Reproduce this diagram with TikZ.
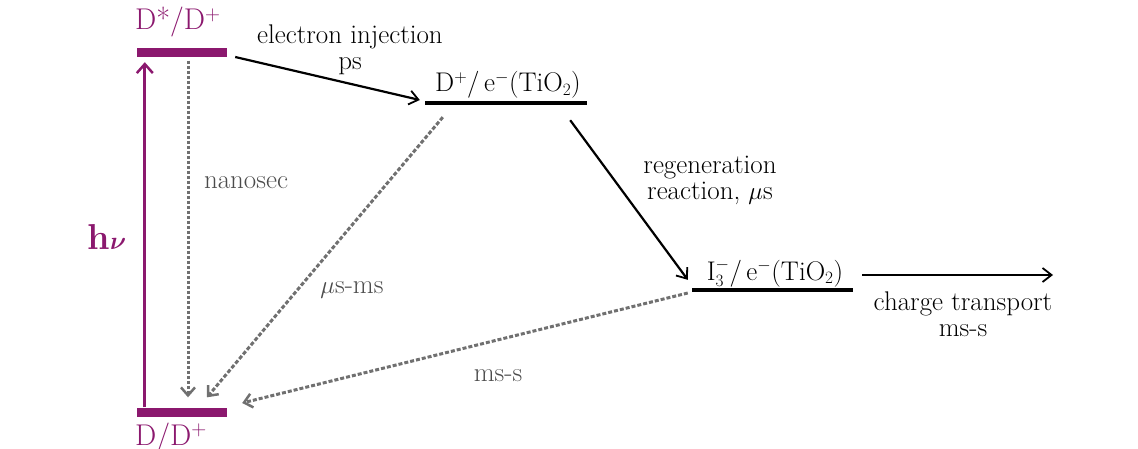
\documentclass[tikz,border=0pt]{standalone}
\usepackage{xcolor}
\usepackage{amsmath}
\usepackage{tikz}
\usetikzlibrary{arrows.meta,positioning,calc}
\definecolor{dyepurple}{RGB}{139,24,110}
\definecolor{lossgray}{RGB}{112,112,112}
\definecolor{labelgray}{RGB}{75,75,75}

\begin{document}
\begin{tikzpicture}[x=1pt, y=-1pt, font=\fontsize{27}{26}\selectfont,
  purplebar/.style={fill=dyepurple, draw=none, inner sep=0pt, minimum height=9pt},
  levelline/.style={fill=black, draw=none, inner sep=0pt, minimum height=4pt},
  fwdarrow/.style={draw=black, line width=2.2pt, -{Straight Barb[length=9pt,width=14pt,line width=1.8pt]}},
  lossarrow/.style={draw=lossgray, line width=3pt, dash pattern=on 4pt off 2pt,
                    -{Straight Barb[length=8pt,width=14pt,line width=2.5pt]}},
  purplelabel/.style={text=dyepurple, font=\fontsize{30}{30}\selectfont, inner sep=0pt},
  timelabel/.style={text=labelgray, inner sep=0pt}]
  \useasboundingbox (0,0) rectangle (1138,449);

  % Energy levels
  \node[purplebar, minimum width=90pt]   (dstar)   at (182,53)    {};
  \node[purplebar, minimum width=90pt]   (dground) at (182,412)   {};
  \node[levelline, minimum width=162pt]  (inj)     at (506,103)   {};
  \node[levelline, minimum width=161pt]  (reg)     at (772.5,290) {};

  % Level labels
  \node[purplelabel, anchor=base west] (dstarlab) at (135,30) {D*/D$^{+}$};
  \node[purplelabel, anchor=base west] (dgroundlab) at (135,445) {D/D$^{+}$};
  \node[anchor=base, inner sep=0pt] (injlab) at (508,92) {D$^{+}$/\,e$^{-}$(TiO$_2$)};
  \node[anchor=base, inner sep=0pt] (reglab) at (775,280) {I$_3^{-}$/\,e$^{-}$(TiO$_2$)};

  % Excitation
  \draw[draw=dyepurple, line width=3pt, -{Straight Barb[length=9pt,width=16pt,line width=2.5pt]}]
    ($(dground.north west)+(8,0)$) -- ($(dstar.south west)+(8,4.5)$);
  \node[text=dyepurple, font=\fontsize{36}{38}\selectfont\bfseries, anchor=base, inner sep=0pt]
    (hv) at (107,250) {h$\boldsymbol{\nu}$};

  % Forward steps
  \draw[fwdarrow] ($(dstar.east)+(8,4)$) -- ($(inj.west)+(-5,-3)$);
  \node[align=center, inner sep=0pt] (injtime) at (350,50) {electron injection\\ps};
  \draw[fwdarrow] ($(inj.south east)+(-17,15)$) -- ($(reg.north west)+(-4,-8)$);
  \node[align=center, inner sep=0pt] (regtime) at (710,180) {regeneration\\reaction, $\mu$s};
  \coordinate (out) at (1053,275);
  \draw[fwdarrow] ($(reg.east)+(9,-15)$) -- (out);
  \node[align=center, inner sep=0pt] (transtime) at (963,314) {charge transport\\ms-s};

  % Loss channels
  \draw[lossarrow, dash pattern=on 3pt off 2pt] ($(dstar.south)+(6,3)$) -- ($(dground.north)+(6,-10)$);
  \node[timelabel] (nslab) at (246,183) {nanosec};
  \draw[lossarrow] ($(inj.south west)+(18,12)$) -- ($(dground.north)+(25,-10)$);
  \node[timelabel] (usmslab) at (352,290) {$\mu$s-ms};
  \draw[lossarrow] ($(reg.west)+(-4,3)$) -- ($(dground.east)+(15,-9)$);
  \node[timelabel] (msslab) at (498,376) {ms-s};
\end{tikzpicture}
\end{document}
